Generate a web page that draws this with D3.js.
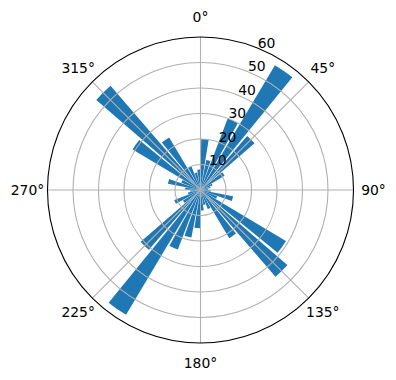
<!DOCTYPE html>
<html lang="en">
<head>
<meta charset="UTF-8">
<title>polar bar</title>
<script src="https://d3js.org/d3.v7.min.js"></script>
<style>
  body { margin: 0; background: #fff; }
  text { font-family: "DejaVu Sans", sans-serif; font-size: 13.9px; fill: #000; }
</style>
</head>
<body>
<script>
// bar directions (degrees, clockwise from north) and their heights
var directions = [5, 15, 25, 35, 45, 55, 65, 75, 85,
                  95, 105, 115, 125, 135, 145, 155, 165, 175,
                  185, 195, 205, 215, 225, 235, 245, 255, 265,
                  275, 285, 295, 305, 315, 325, 335, 345, 355];
var counts = [20, 12, 30, 57, 28, 11, 5, 4, 3,
              4, 13, 7, 39, 45, 22, 8, 6, 8,
              15, 19, 25, 57, 31, 8, 11, 5, 4,
              6, 13, 8, 31, 54, 24, 10, 7, 8];
var angleTicks = [0, 45, 90, 135, 180, 225, 270, 315];
var radiusTicks = [10, 20, 30, 40, 50, 60];

var width = 396, height = 380;
var cx = 200.5, cy = 190;
var outer = 153;
var barWidth = 8.4; // degrees

var svg = d3.select('body').append('svg')
    .attr('width', width)
    .attr('height', height);

var r = d3.scaleLinear().domain([0, 60]).range([0, outer]);
var rad = function(deg) { return deg * Math.PI / 180; };

var g = svg.append('g').attr('transform', 'translate(' + cx + ',' + cy + ')');

// bars
var arc = d3.arc()
    .innerRadius(0)
    .outerRadius(function(d) { return r(d.v); })
    .startAngle(function(d) { return rad(d.a - barWidth / 2); })
    .endAngle(function(d) { return rad(d.a + barWidth / 2); });

g.selectAll('path.bar')
    .data(directions.map(function(a, i) { return {a: a, v: counts[i]}; }))
    .enter().append('path')
    .attr('class', 'bar')
    .attr('d', arc)
    .attr('fill', '#1f77b4');

// grid circles (drawn over the bars, like the original)
g.selectAll('circle.grid')
    .data(radiusTicks.slice(0, -1))
    .enter().append('circle')
    .attr('class', 'grid')
    .attr('r', function(d) { return r(d); })
    .attr('fill', 'none')
    .attr('stroke', '#b0b0b0')
    .attr('stroke-width', 1.1);

// spokes
g.selectAll('line.spoke')
    .data(angleTicks)
    .enter().append('line')
    .attr('x1', 0).attr('y1', 0)
    .attr('x2', function(d) { return outer * Math.sin(rad(d)); })
    .attr('y2', function(d) { return -outer * Math.cos(rad(d)); })
    .attr('stroke', '#b0b0b0')
    .attr('stroke-width', 1.1);

// outer spine
g.append('circle')
    .attr('r', outer)
    .attr('fill', 'none')
    .attr('stroke', '#000')
    .attr('stroke-width', 1.1);

// angle labels
g.selectAll('text.theta')
    .data(angleTicks)
    .enter().append('text')
    .attr('x', function(d) { return 173 * Math.sin(rad(d)); })
    .attr('y', function(d) { return -173 * Math.cos(rad(d)); })
    .attr('text-anchor', 'middle')
    .attr('dy', '0.35em')
    .text(function(d) { return d + '°'; });

// radius labels along 22.5°
g.selectAll('text.rlab')
    .data(radiusTicks)
    .enter().append('text')
    .attr('x', function(d) { return r(d) * Math.sin(rad(22.5)) + 7.5; })
    .attr('y', function(d) { return -r(d) * Math.cos(rad(22.5)) - 6; })
    .attr('text-anchor', 'middle')
    .attr('dy', '0.35em')
    .text(function(d) { return d; });
</script>
</body>
</html>
